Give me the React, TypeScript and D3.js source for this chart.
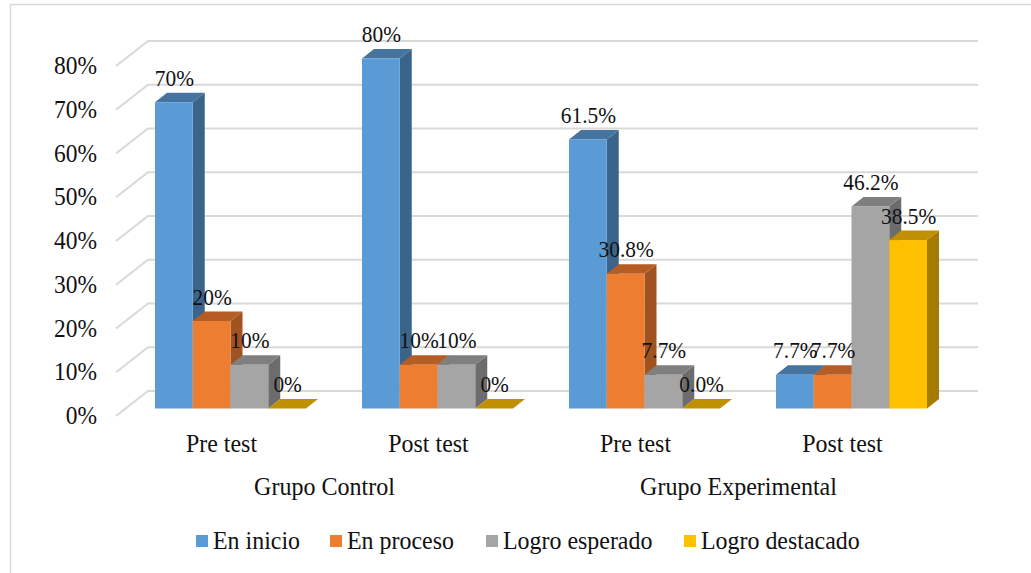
import React from "react";
import * as d3 from "d3";

const phases = ["Pre test", "Post test", "Pre test", "Post test"];
const groups = ["Grupo Control", "Grupo Experimental"];
const seriesNames = ["En inicio", "En proceso", "Logro esperado", "Logro destacado"];
const enInicio = [70, 80, 61.5, 7.7];
const enProceso = [20, 10, 30.8, 7.7];
const logroEsperado = [10, 10, 7.7, 46.2];
const logroDestacado = [0, 0, 0, 38.5];
const valueLabels = [
  ["70%", "80%", "61.5%", "7.7%"],
  ["20%", "10%", "30.8%", "7.7%"],
  ["10%", "10%", "7.7%", "46.2%"],
  ["0%", "0%", "0.0%", "38.5%"],
];
const ticks = [0, 10, 20, 30, 40, 50, 60, 70, 80];

const series = [enInicio, enProceso, logroEsperado, logroDestacado];
const palette = [
  { front: "#5b9bd5", side: "#3b648a", top: "#4674a0" },
  { front: "#ed7d31", side: "#a0521f", top: "#b55d24" },
  { front: "#a5a5a5", side: "#6c6c6c", top: "#7f7f7f" },
  { front: "#ffc000", side: "#a67c00", top: "#bf9000" },
];

const serif = "'Liberation Serif', 'Times New Roman', serif";
const depthX = 12;
const depthY = 9.5;
const y = d3.scaleLinear().domain([0, 80]).range([408.5, 58.5]);
const x0 = d3.scaleBand<number>().domain(d3.range(4)).range([155, 983]);
const x1 = d3.scaleBand<number>().domain(d3.range(4)).range([0, 151]);

// Wall gridlines share the front scale, shifted back to the rear plane.
const wall = (v: number) => y(v) - 17.5;
const legendSwatchX = [196, 330, 486, 684];

type LabelProps = {
  x: number;
  y: number;
  size: number;
  squeeze: number;
  anchor?: "start" | "middle" | "end";
  children: React.ReactNode;
};

// Serif text set slightly condensed: taller glyphs in the same advance width.
function Label({ x, y: baseline, size, squeeze, anchor = "start", children }: LabelProps) {
  return (
    <text
      transform={`translate(${x} ${baseline}) scale(${squeeze} 1)`}
      fontSize={size}
      textAnchor={anchor}
    >
      {children}
    </text>
  );
}

export default function App() {
  return (
    <svg width={1031} height={573} style={{ position: "absolute", left: 0, top: 0 }} fontFamily={serif} fill="#111">
      <rect width={1031} height={573} fill="#fff" />
      <path d="M10.5 573V4.5H1031" fill="none" stroke="#d9d9d9" strokeWidth={1.5} />

      {ticks.map((t) => (
        <g key={t}>
          <path
            d={`M116 ${wall(t) + 25}L148 ${wall(t)}H978`}
            fill="none"
            stroke="#d9d9d9"
            strokeWidth={2.2}
          />
          <Label x={97} y={wall(t) + 33} size={25.8} squeeze={0.91} anchor="end">
            {t}%
          </Label>
        </g>
      ))}

      {phases.map((_, g) =>
        series.map((values, s) => {
          const v = values[g];
          const left = x0(g)! + x1(s)!;
          const w = x1.bandwidth();
          const top = y(v);
          const base = y(0);
          const c = palette[s];
          return (
            <g key={`${g}-${s}`}>
              <path
                d={`M${left + w} ${top}l${depthX} ${-depthY}V${base - depthY}l${-depthX} ${depthY}Z`}
                fill={c.side}
              />
              <path
                d={`M${left} ${top}l${depthX} ${-depthY}h${w}l${-depthX} ${depthY}Z`}
                fill={c.top}
              />
              <rect x={left} y={top} width={w} height={base - top} fill={c.front} />
            </g>
          );
        })
      )}

      {phases.map((_, g) =>
        series.map((_v, s) => (
          <Label
            key={`${g}-${s}`}
            x={x0(g)! + x1(s)! + x1.bandwidth() / 2 + 0.5}
            y={y(series[s][g]) - 16.5}
            size={22.5}
            squeeze={0.95}
            anchor="middle"
          >
            {valueLabels[s][g]}
          </Label>
        ))
      )}

      {phases.map((p, g) => (
        <Label key={g} x={x0(g)! + 66.5} y={452} size={26} squeeze={0.92} anchor="middle">
          {p}
        </Label>
      ))}
      {groups.map((name, i) => (
        <Label key={name} x={x0(i * 2)! + 169.5} y={495} size={26} squeeze={0.925} anchor="middle">
          {name}
        </Label>
      ))}

      {seriesNames.map((name, i) => (
        <g key={name}>
          <rect x={legendSwatchX[i]} y={535} width={12} height={12} fill={palette[i].front} />
          <Label x={legendSwatchX[i] + 17} y={549} size={26} squeeze={0.92}>
            {name}
          </Label>
        </g>
      ))}
    </svg>
  );
}
